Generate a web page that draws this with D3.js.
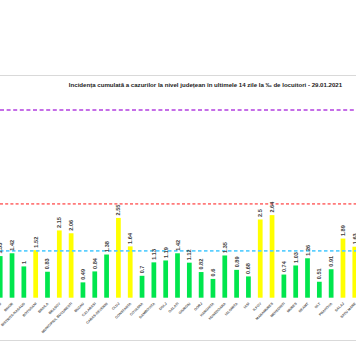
<!DOCTYPE html>
<html><head><meta charset="utf-8">
<script src="https://cdn.jsdelivr.net/npm/d3@7"></script>
<style>html,body{margin:0;padding:0;background:#fff;}svg{display:block;}</style>
</head><body>
<script>
const categories = ["BACAU","BIHOR","BISTRITA-NASAUD","BOTOSANI","BRAILA","BRASOV","MUNICIPIUL BUCURESTI","BUZAU","CALARASI","CARAS-SEVERIN","CLUJ","CONSTANTA","COVASNA","DAMBOVITA","DOLJ","GALATI","GIURGIU","GORJ","HARGHITA","HUNEDOARA","IALOMITA","IASI","ILFOV","MARAMURES","MEHEDINTI","MURES","NEAMT","OLT","PRAHOVA","SALAJ","SATU MARE"];
const values = [1.33,1.42,1,1.52,0.83,2.15,2.06,0.49,0.84,1.38,2.55,1.64,0.7,1.13,1.19,1.42,1.12,0.82,0.6,1.35,0.89,0.68,2.5,2.64,0.74,1.03,1.26,0.51,0.91,1.89,1.63];
const thresholds = [1.5, 3, 6];
const thresholdColors = ["#5ccfff","#ff7a7a","#b23fe0"];
const title = "Incidența cumulată a cazurilor la nivel județean în ultimele 14 zile la ‰ de locuitori - 29.01.2021";

const W = 356, H = 364;
const svg = d3.select("body").append("svg").attr("width", W).attr("height", H);

svg.append("line").attr("x1",0).attr("x2",W).attr("y1",75.5).attr("y2",75.5).attr("stroke","#d9d9d9").attr("stroke-width",1);
svg.append("line").attr("x1",0).attr("x2",W).attr("y1",340.5).attr("y2",340.5).attr("stroke","#d9d9d9").attr("stroke-width",1.2);

svg.append("text").attr("x",205.5).attr("y",87).attr("text-anchor","middle")
  .attr("font-family","Liberation Sans, Arial, sans-serif").attr("font-weight","bold")
  .attr("font-size",6.1).attr("fill","#222").text(title);

const x = d3.scaleBand().domain(categories).range([-5.7, 360.7]).paddingInner(0.6).paddingOuter(0.3);
const y = d3.scaleLinear().domain([0, 6]).range([297.7, 110]);

const data = categories.map((c,i)=>({c, v: values[i]}));

svg.selectAll("rect.bar").data(data).enter().append("rect")
  .attr("class","bar")
  .attr("x", d => x(d.c))
  .attr("width", x.bandwidth())
  .attr("y", d => y(d.v))
  .attr("height", d => y(0) - y(d.v))
  .attr("fill", d => d.v > thresholds[0] ? "#ffff00" : "#00e64d");

const dashes = ["3.5,2.5","3,2.2","4,2.6"];
const widths = [1.8,1.8,1.3];
thresholds.forEach((t,i)=>{
  svg.append("line").attr("x1",0).attr("x2",W).attr("y1",y(t)).attr("y2",y(t))
    .attr("stroke",thresholdColors[i]).attr("stroke-width",widths[i]).attr("stroke-dasharray",dashes[i]);
});

svg.selectAll("text.val").data(data).enter().append("text")
  .attr("class","val")
  .attr("transform", d => `translate(${x(d.c)+x.bandwidth()/2+2},${y(d.v)-2.5}) rotate(-90)`)
  .attr("font-family","Liberation Sans, Arial, sans-serif").attr("font-weight","bold")
  .attr("font-size",5.6).attr("fill","#404040").text(d => String(d.v));

svg.selectAll("text.cat").data(data).enter().append("text")
  .attr("class","cat")
  .attr("transform", d => `translate(${x(d.c)+x.bandwidth()/2+0.5},${303}) rotate(-45)`)
  .attr("text-anchor","end")
  .attr("dy","0.35em")
  .attr("font-family","Liberation Sans, Arial, sans-serif").attr("font-size",3.5).attr("font-weight","bold")
  .attr("fill","#555").text(d => d.c);
</script>
</body></html>
